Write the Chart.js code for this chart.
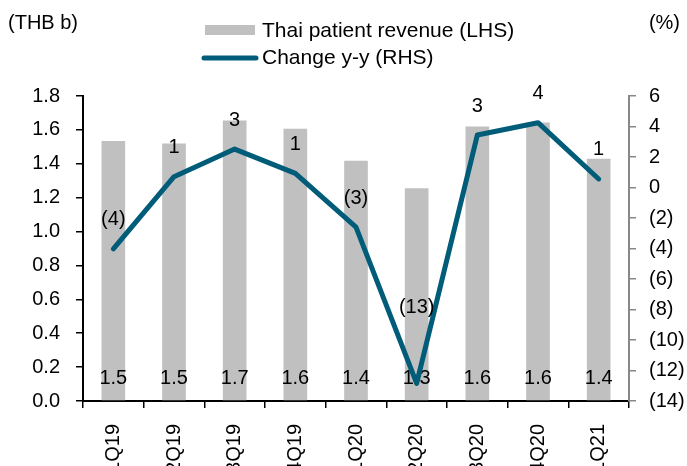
<!DOCTYPE html>
<html>
<head>
<meta charset="utf-8">
<script src="https://cdn.jsdelivr.net/npm/chart.js@4/dist/chart.umd.min.js"></script>
<style>
  html, body { margin: 0; padding: 0; background: #fff; }
  #wrap { position: relative; width: 687px; height: 466px; }
</style>
</head>
<body>
<div id="wrap"><canvas id="myChart"></canvas></div>
<script>
// data
const quarters = ["1Q19", "2Q19", "3Q19", "4Q19", "1Q20", "2Q20", "3Q20", "4Q20", "1Q21"];
const revenue = [1.535, 1.52, 1.655, 1.606, 1.418, 1.256, 1.62, 1.643, 1.43];   // THB b (LHS)
const changeYY = [-4.03, 0.71, 2.52, 0.93, -2.6, -12.84, 3.44, 4.25, 0.56];     // % (RHS)

const FONT = "'Liberation Sans', Arial, sans-serif";
const FONT_SIZE = 20;
const BAR_COLOR = "#c0c0c0";
const LINE_COLOR = "#005c78";

function pct(v) {
  const r = Math.round(v);
  return r < 0 ? "(" + Math.abs(r) + ")" : String(r);
}

const labelPlugin = {
  id: "labels",
  afterDatasetDraw(chart, args) {
    const ctx = chart.ctx;
    ctx.save();
    ctx.font = FONT_SIZE + "px " + FONT;
    ctx.fillStyle = "#000";
    ctx.textAlign = "center";
    ctx.textBaseline = "middle";
    if (args.index === 0) {
      // bar values near the bottom
      const yBase = chart.scales.y.bottom - 23;
      args.meta.data.forEach((el, i) => {
        ctx.fillText(revenue[i].toFixed(1), el.x, yBase);
      });
    } else {
      const minV = Math.min(...changeYY);
      args.meta.data.forEach((el, i) => {
        const off = changeYY[i] === minV ? 76 : 29;
        ctx.fillText(pct(changeYY[i]), el.x, el.y - off);
      });
    }
    ctx.restore();
  },
  afterDraw(chart) {
    const ctx = chart.ctx;
    ctx.save();
    ctx.font = FONT_SIZE + "px " + FONT;
    ctx.fillStyle = "#000";
    ctx.textBaseline = "middle";
    ctx.textAlign = "left";
    ctx.fillText("(THB b)", 8, 23);
    ctx.textAlign = "right";
    ctx.fillText("(%)", 680, 23);

    // legend
    ctx.textAlign = "left";
    ctx.font = "21px " + FONT;
    ctx.fillStyle = BAR_COLOR;
    ctx.fillRect(205, 25, 50, 10);
    ctx.fillStyle = "#000";
    ctx.fillText(chart.data.datasets[0].label, 262, 31);
    ctx.strokeStyle = LINE_COLOR;
    ctx.lineWidth = 5;
    ctx.lineCap = "round";
    ctx.beginPath();
    ctx.moveTo(204, 58);
    ctx.lineTo(256, 58);
    ctx.stroke();
    ctx.fillText(chart.data.datasets[1].label, 262, 58);
    ctx.restore();
  }
};

const ctx = document.getElementById("myChart");

new Chart(ctx, {
  type: "bar",
  data: {
    labels: quarters,
    datasets: [
      {
        label: "Thai patient revenue (LHS)",
        data: revenue,
        backgroundColor: BAR_COLOR,
        yAxisID: "y",
        barPercentage: 0.39,
        categoryPercentage: 1,
        order: 1
      },
      {
        type: "line",
        label: "Change y-y (RHS)",
        data: changeYY,
        borderColor: LINE_COLOR,
        borderWidth: 5,
        borderCapStyle: "round",
        borderJoinStyle: "round",
        pointRadius: 0,
        tension: 0,
        fill: false,
        yAxisID: "y1",
        order: 0
      }
    ]
  },
  options: {
    responsive: true,
    maintainAspectRatio: false,
    animation: false,
    layout: { padding: { top: 96, left: 0, right: 0, bottom: 0 } },
    plugins: {
      legend: { display: false },
      tooltip: { enabled: false }
    },
    scales: {
      x: {
        grid: { display: true, offset: true, drawOnChartArea: false, drawTicks: true, tickLength: 7, color: "#000", lineWidth: 1.5 },
        border: { display: true, color: "#000", width: 2 },
        ticks: {
          autoSkip: false, minRotation: 90, maxRotation: 90, padding: 16,
          color: "#000", font: { family: FONT, size: FONT_SIZE }
        },
        afterFit(scale) { scale.height = 65; }
      },
      y: {
        position: "left",
        min: 0, max: 1.8,
        grid: { display: true, drawOnChartArea: false, drawTicks: true, tickLength: 7, color: "#000", lineWidth: 1.5 },
        border: { display: true, color: "#000", width: 2 },
        ticks: {
          stepSize: 0.2, padding: 16, color: "#000",
          font: { family: FONT, size: FONT_SIZE },
          callback: v => Number(v).toFixed(1)
        },
        afterFit(scale) { scale.width = 83; }
      },
      y1: {
        position: "right",
        min: -14, max: 6,
        grid: { display: true, drawOnChartArea: false, drawTicks: true, tickLength: 7, color: "#888", lineWidth: 1.5 },
        border: { display: true, color: "#888", width: 2 },
        ticks: {
          stepSize: 2, padding: 13, color: "#000",
          font: { family: FONT, size: FONT_SIZE },
          callback: v => v < 0 ? "(" + Math.abs(v) + ")" : String(v)
        },
        afterFit(scale) { scale.width = 58; }
      }
    }
  },
  plugins: [labelPlugin]
});
</script>
</body>
</html>
